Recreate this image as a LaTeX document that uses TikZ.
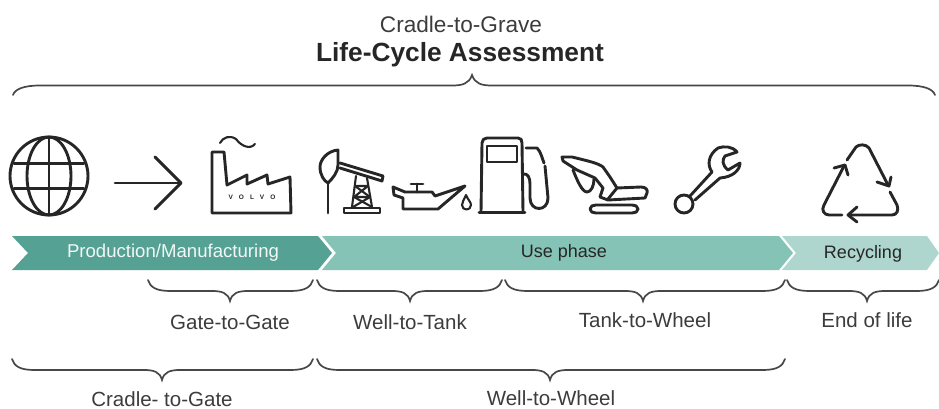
\documentclass[tikz,border=0pt]{standalone}
\usepackage{fontspec}
\setmainfont{Liberation Sans}
\definecolor{prodc}{HTML}{55A194}
\definecolor{usec}{HTML}{85C3B7}
\definecolor{recc}{HTML}{AED6CF}
\definecolor{ink}{HTML}{262626}
\tikzset{
  icon/.style={draw=ink,line width=2.9pt,line join=round,line cap=round},
  thin icon/.style={draw=ink,line width=2.1pt,line join=round,line cap=round},
  bracket/.style={draw=ink!85,line width=1.7pt,line cap=round},
  lab/.style={font=\fontsize{20.5}{22}\selectfont,text=ink!90,inner sep=0pt,anchor=center},
  bannerlab/.style={font=\fontsize{18}{20}\selectfont,inner sep=0pt,anchor=center},
}
% \downbrace{x1}{xm}{x2}{ytop}
\newcommand{\downbrace}[4]{%
  \draw[bracket] (#1,#4) .. controls (#1+2,#4+7) and (#1+8,#4+11) .. (#1+22,#4+11)
    -- (#2-18,#4+11) .. controls (#2-8,#4+11) and (#2-2,#4+13) .. (#2,#4+21)
    .. controls (#2+2,#4+13) and (#2+8,#4+11) .. (#2+18,#4+11)
    -- (#3-22,#4+11) .. controls (#3-8,#4+11) and (#3-2,#4+7) .. (#3,#4);}
\begin{document}
\begin{tikzpicture}[x=1pt,y=-1pt]
\useasboundingbox (0,0) rectangle (939,409);
% Title
\node[lab,font=\fontsize{22.6}{24}\selectfont] (t1) at (461,24) {Cradle-to-Grave};
\node[lab,font=\fontsize{26.3}{28}\selectfont\bfseries,text=ink] (t2) at (460,55) {Life-Cycle Assessment};
% top brace
\draw[bracket] (13,95) .. controls (15,89) and (24,85.5) .. (40,85.5)
  -- (452,85.5) .. controls (462,85.5) and (469,84) .. (472,75)
  .. controls (475,84) and (482,85.5) .. (492,85.5)
  -- (908,85.5) .. controls (924,85.5) and (933,89) .. (935,95);
% Banner
\fill[usec] (322,236) -- (779,236) -- (793,253) -- (779,270) -- (322,270) -- (336,253) -- cycle;
\fill[recc] (782,236) -- (927,236) -- (939,253) -- (927,270) -- (782,270) -- (796,253) -- cycle;
\fill[prodc] (12,236) -- (318,236) -- (332,253) -- (318,270) -- (12,270) -- (28,253) -- cycle;
\node[bannerlab,font=\fontsize{18.6}{20}\selectfont,text=white!92!prodc] (bp) at (173,253) {Production/Manufacturing};
\node[bannerlab,text=ink] (bu) at (564,253) {Use phase};
\node[bannerlab,text=ink] (br) at (863,254) {Recycling};
% Braces
\downbrace{148}{230}{313}{280}
\downbrace{317}{410}{502}{280}
\downbrace{505}{643}{785}{280}
\downbrace{787}{867}{939}{280}
\downbrace{12}{162}{313}{359}
\downbrace{317}{550}{785}{359}
% Labels
\node[lab] (g) at (230,322) {Gate-to-Gate};
\node[lab] (w) at (410,322) {Well-to-Tank};
\node[lab] (tw) at (645,320) {Tank-to-Wheel};
\node[lab] (e) at (867,320) {End of life};
\node[lab] (c) at (162,399) {Cradle- to-Gate};
\node[lab] (ww) at (551,398) {Well-to-Wheel};
% Globe
\draw[icon] (49,176) circle (39);
\draw[icon] (49,176) ellipse (22 and 39);
\draw[icon] (49,137) -- (49,215);
\draw[icon] (14,163.5) -- (84,163.5);
\draw[icon] (14,188.5) -- (84,188.5);
% Arrow
\draw[icon] (115,183) -- (181,183);
\draw[icon] (155,157) -- (181,183) -- (155,209);
% Factory
\draw[icon] (212,152) -- (224,152) -- (227,185) -- (247,175) -- (247,184) -- (267,175) -- (268,184) -- (290,177) -- (291,213) -- (212,213) -- cycle;
\draw[thin icon] (220,143) .. controls (223,137) and (230,135) .. (236,139) .. controls (241,146) and (250,150) .. (255,144);
\node[font=\fontsize{6.5}{7}\selectfont\bfseries,text=ink,inner sep=0pt] (volvo) at (252,197) {V\hspace{6pt}O\hspace{6pt}L\hspace{6pt}V\hspace{6pt}O};
% Oil pump
\draw[icon] (328,213) -- (328,183);
\draw[icon] (338,150) .. controls (327,151) and (320,160) .. (320,167) .. controls (320,175) and (324,181) .. (328,183) .. controls (333,178) and (338,172) .. (338,165) -- cycle;
\draw[icon] (340,163) -- (383,176) -- (382,181) -- (340,168);
\draw[thin icon] (356,176) -- (352,207);
\draw[thin icon] (367,178) -- (372,207);
\draw[thin icon] (355,186) -- (368,186) -- (354,197) -- (370,197) -- (353,207);
\draw[thin icon] (355,186) -- (370,197);
\draw[thin icon] (354,197) -- (372,207);
\draw[icon] (344,208) -- (380,208) -- (380,213) -- (344,213) -- cycle;
% Oil can
\draw[icon] (393,187) -- (405,192) -- (432,192) -- (435,196) -- (465,186) -- (438,209) -- (403,209) -- (403,198) -- (394,195) -- cycle;
\draw[icon] (411,184) -- (423,184);
\draw[icon] (417,184) -- (417,192);
\draw[thin icon] (466,195) .. controls (464,200) and (462,202) .. (462,205) .. controls (462,211) and (471,211) .. (471,205) .. controls (471,202) and (468,200) .. (466,195) -- cycle;
% Pump
\draw[icon] (481,212) -- (482,143) .. controls (482,140) and (484,138) .. (487,138) -- (518,138) .. controls (521,138) and (522,140) .. (522,143) -- (523,212);
\draw[icon] (479,212.5) -- (525,212.5);
\draw[icon] (487,146) rectangle (517,162);
\draw[icon] (523,174) .. controls (528,173) and (530,178) .. (530,184) -- (530,198) .. controls (530,212) and (548,212) .. (548,198) -- (545,166);
\draw[icon] (526,148) -- (537,148) .. controls (541,152) and (542,158) .. (544,163);
% Excavator
\draw[icon] (562,157) -- (572,157) .. controls (588,161) and (598,163) .. (603,167) -- (610,177) -- (617,188) -- (641,187) .. controls (646,187) and (648,190) .. (647,193) -- (645,198) -- (608,200) -- (600,197) -- (603,188) -- (595,178) -- (577,170) -- (563,161) -- cycle;
\draw[icon] (573,170) .. controls (577,180) and (582,192) .. (587,192) .. controls (591,192) and (594,186) .. (594,179);
\draw[icon] (617,188) -- (608,199);
\draw[icon] (590,209) .. controls (590,206) and (593,205) .. (596,205) -- (632,205) .. controls (635,205) and (638,206) .. (638,209) .. controls (638,212) and (635,213) .. (632,213) -- (596,213) .. controls (593,213) and (590,212) .. (590,209) -- cycle;
% Wrench
\draw[icon] (684,204) circle (9);
\draw[icon] (690,196) -- (712,172) .. controls (707,165) and (708,155) .. (718,148) .. controls (724,146) and (732,146) .. (737,152) -- (725,156) .. controls (722,160) and (722,165) .. (728,170) -- (740,163) .. controls (740,170) and (733,177) .. (720,178) -- (695,200);
% Recycle
\draw[icon] (847,160) -- (856,147) .. controls (859,144) and (866,144) .. (869,148) -- (888,185);
\draw[icon] (877,182) -- (889,186) -- (891,177);
\draw[icon] (890,192) -- (897,205) .. controls (899,210) and (897,215) .. (892,215) -- (849,215);
\draw[icon] (857,207) -- (848,215) -- (857,222);
\draw[icon] (842,215) -- (829,215) .. controls (824,215) and (821,210) .. (824,205) -- (844,166);
\draw[icon] (834,168) -- (845,165) -- (848,175);
\end{tikzpicture}
\end{document}
